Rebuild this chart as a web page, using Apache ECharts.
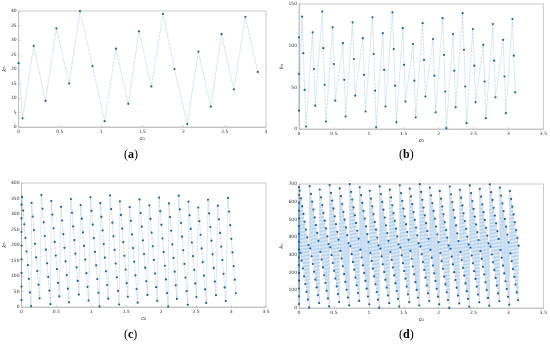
<!DOCTYPE html>
<html><head><meta charset="utf-8">
<script src="https://cdn.jsdelivr.net/npm/echarts@6/dist/echarts.min.js"></script>
<style>html,body{margin:0;padding:0;background:#fff}#c{width:550px;height:346px}</style>
</head><body><div id="c"></div>
<script>
// Panel (a)
const xA=[0,0.048,0.183,0.326,0.458,0.613,0.744,0.895,1.043,1.18,1.33,1.46,1.61,1.75,1.89,2.045,2.18,2.33,2.46,2.61,2.75,2.90];
const yA=[22,3,28,9,34,15,40,21,2,27,8,33,14,39,20,1,26,7,32,13,38,19];
// Panel (b)
const xB=[0,0,0, 0.043,0.062,0.081,0.1, 0.195,0.214,0.233, 0.333,0.348,0.367,0.386, 0.481,0.5,0.519, 0.629,0.648,0.667, 0.767,0.786,0.805, 0.914,0.933,0.952, 1.052,1.071,1.09,1.105, 1.2,1.219,1.238, 1.338,1.357,1.376,1.395, 1.486,1.505,1.524, 1.633,1.652,1.671, 1.771,1.79,1.81, 1.919,1.938,1.957, 2.057,2.076,2.095,2.11, 2.205,2.224,2.243, 2.343,2.362,2.381,2.4, 2.49,2.51,2.529, 2.638,2.657,2.676, 2.776,2.795,2.814, 2.924,2.943,2.962, 3.057,3.076,3.095];
const yB=[110,66,22, 135,91,47,3, 116,72,28, 141,97,53,9, 122,78,34, 103,59,15, 128,84,40, 109,65,21, 134,90,46,2, 115,71,27, 140,96,52,8, 121,77,33, 102,58,14, 127,83,39, 108,64,20, 133,89,45,1, 114,70,26, 139,95,51,7, 120,76,32, 101,57,13, 126,82,38, 107,63,19, 132,88,44];
// Panel (c)
const xC=[0,0,0,0,0,0,0,0,
0.008,0.024,0.041,0.057,0.073,0.09,0.106,0.122,0.138,
0.145,0.161,0.178,0.194,0.21,0.227,0.243,0.259,
0.285,0.301,0.318,0.334,0.35,0.367,0.383,0.399,0.415,
0.426,0.442,0.459,0.475,0.491,0.508,0.524,0.54,
0.566,0.582,0.599,0.615,0.631,0.648,0.664,0.68,
0.707,0.723,0.74,0.756,0.772,0.789,0.805,0.821,
0.847,0.863,0.88,0.896,0.912,0.929,0.945,0.961,
0.987,1.003,1.02,1.036,1.052,1.069,1.085,1.101,1.117,
1.128,1.144,1.161,1.177,1.193,1.21,1.226,1.242,
1.268,1.284,1.301,1.317,1.333,1.35,1.366,1.382,1.398,
1.408,1.424,1.441,1.457,1.473,1.49,1.506,1.522,
1.549,1.565,1.582,1.598,1.614,1.631,1.647,1.663,
1.689,1.705,1.722,1.738,1.754,1.771,1.787,1.803,
1.83,1.846,1.863,1.879,1.895,1.912,1.928,1.944,
1.97,1.986,2.003,2.019,2.035,2.052,2.068,2.084,2.1,
2.11,2.126,2.143,2.159,2.175,2.192,2.208,2.224,
2.25,2.266,2.283,2.299,2.315,2.332,2.348,2.364,2.38,
2.39,2.406,2.423,2.439,2.455,2.472,2.488,2.504,
2.53,2.546,2.563,2.579,2.595,2.612,2.628,2.644,
2.67,2.686,2.703,2.719,2.735,2.752,2.768,2.784,
2.81,2.826,2.843,2.859,2.875,2.892,2.908,2.924,
2.955,2.971,2.988,3.004,3.02,3.037,3.053,3.069];
const yC=[330,286,242,198,154,110,66,22,
355,311,267,223,179,135,91,47,3,
336,292,248,204,160,116,72,28,
361,317,273,229,185,141,97,53,9,
342,298,254,210,166,122,78,34,
323,279,235,191,147,103,59,15,
348,304,260,216,172,128,84,40,
329,285,241,197,153,109,65,21,
354,310,266,222,178,134,90,46,2,
335,291,247,203,159,115,71,27,
360,316,272,228,184,140,96,52,8,
341,297,253,209,165,121,77,33,
322,278,234,190,146,102,58,14,
347,303,259,215,171,127,83,39,
328,284,240,196,152,108,64,20,
353,309,265,221,177,133,89,45,1,
334,290,246,202,158,114,70,26,
359,315,271,227,183,139,95,51,7,
340,296,252,208,164,120,76,32,
321,277,233,189,145,101,57,13,
346,302,258,214,170,126,82,38,
327,283,239,195,151,107,63,19,
352,308,264,220,176,132,88,44];
// Panel (d)
const xD=[0,0,0,0,0,0,0,0,0,0,0,0,0,0,0,0,
0.010,0.019,0.028,0.037,0.046,0.055,0.064,0.073,0.082,0.091,0.100,0.109,0.118,0.127,0.136,0.145,
0.153,0.162,0.171,0.180,0.189,0.198,0.207,0.216,0.225,0.234,0.243,0.252,0.261,0.270,0.279,0.288,
0.297,0.306,0.315,0.324,0.333,0.342,0.351,0.360,0.369,0.378,0.387,0.396,0.405,0.414,0.423,0.432,
0.440,0.449,0.458,0.467,0.476,0.485,0.494,0.503,0.512,0.521,0.530,0.539,0.548,0.557,0.566,0.575,
0.583,0.592,0.601,0.610,0.619,0.628,0.637,0.646,0.655,0.664,0.673,0.682,0.691,0.700,0.709,0.718,
0.727,0.736,0.745,0.754,0.763,0.772,0.781,0.790,0.799,0.808,0.817,0.826,0.835,0.844,0.853,0.862,
0.870,0.879,0.888,0.897,0.906,0.915,0.924,0.933,0.942,0.951,0.960,0.969,0.978,0.987,0.996,1.005,
1.013,1.022,1.031,1.040,1.049,1.058,1.067,1.076,1.085,1.094,1.103,1.112,1.121,1.130,1.139,1.148,
1.156,1.165,1.174,1.183,1.192,1.201,1.210,1.219,1.228,1.237,1.246,1.255,1.264,1.273,1.282,1.291,
1.300,1.309,1.318,1.327,1.336,1.345,1.354,1.363,1.372,1.381,1.390,1.399,1.408,1.417,1.426,1.435,
1.443,1.452,1.461,1.470,1.479,1.488,1.497,1.506,1.515,1.524,1.533,1.542,1.551,1.560,1.569,1.578,
1.586,1.595,1.604,1.613,1.622,1.631,1.640,1.649,1.658,1.667,1.676,1.685,1.694,1.703,1.712,1.721,
1.730,1.739,1.748,1.757,1.766,1.775,1.784,1.793,1.802,1.811,1.820,1.829,1.838,1.847,1.856,1.865,
1.873,1.882,1.891,1.900,1.909,1.918,1.927,1.936,1.945,1.954,1.963,1.972,1.981,1.990,1.999,2.008,
2.016,2.025,2.034,2.043,2.052,2.061,2.070,2.079,2.088,2.097,2.106,2.115,2.124,2.133,2.142,2.151,
2.159,2.168,2.177,2.186,2.195,2.204,2.213,2.222,2.231,2.240,2.249,2.258,2.267,2.276,2.285,2.294,
2.303,2.312,2.321,2.330,2.339,2.348,2.357,2.366,2.375,2.384,2.393,2.402,2.411,2.420,2.429,2.438,
2.446,2.455,2.464,2.473,2.482,2.491,2.500,2.509,2.518,2.527,2.536,2.545,2.554,2.563,2.572,2.581,
2.589,2.598,2.607,2.616,2.625,2.634,2.643,2.652,2.661,2.670,2.679,2.688,2.697,2.706,2.715,2.724,
2.733,2.742,2.751,2.760,2.769,2.778,2.787,2.796,2.805,2.814,2.823,2.832,2.841,2.850,2.859,2.868,
2.876,2.885,2.894,2.903,2.912,2.921,2.930,2.939,2.948,2.957,2.966,2.975,2.984,2.993,3.002,3.011,
3.019,3.028,3.037,3.046,3.055,3.064,3.073,3.082,3.091,3.100,3.109,3.118,3.127,3.136,3.145];
const yD=[682,330,638,286,594,242,550,198,506,154,462,110,418,66,374,22,
663,311,619,267,575,223,531,179,487,135,443,91,399,47,355,3,
688,336,644,292,600,248,556,204,512,160,468,116,424,72,380,28,
669,317,625,273,581,229,537,185,493,141,449,97,405,53,361,9,
694,342,650,298,606,254,562,210,518,166,474,122,430,78,386,34,
675,323,631,279,587,235,543,191,499,147,455,103,411,59,367,15,
700,348,656,304,612,260,568,216,524,172,480,128,436,84,392,40,
681,329,637,285,593,241,549,197,505,153,461,109,417,65,373,21,
662,310,618,266,574,222,530,178,486,134,442,90,398,46,354,2,
687,335,643,291,599,247,555,203,511,159,467,115,423,71,379,27,
668,316,624,272,580,228,536,184,492,140,448,96,404,52,360,8,
693,341,649,297,605,253,561,209,517,165,473,121,429,77,385,33,
674,322,630,278,586,234,542,190,498,146,454,102,410,58,366,14,
699,347,655,303,611,259,567,215,523,171,479,127,435,83,391,39,
680,328,636,284,592,240,548,196,504,152,460,108,416,64,372,20,
661,309,617,265,573,221,529,177,485,133,441,89,397,45,353,1,
686,334,642,290,598,246,554,202,510,158,466,114,422,70,378,26,
667,315,623,271,579,227,535,183,491,139,447,95,403,51,359,7,
692,340,648,296,604,252,560,208,516,164,472,120,428,76,384,32,
673,321,629,277,585,233,541,189,497,145,453,101,409,57,365,13,
698,346,654,302,610,258,566,214,522,170,478,126,434,82,390,38,
679,327,635,283,591,239,547,195,503,151,459,107,415,63,371,19,
660,308,616,264,572,220,528,176,484,132,440,88,396,44,352];

const ticksA=[0,40,5], ticksB=[0,150,50], ticksC=[0,400,50], ticksD=[0,700,100];

function pairs(xs,ys){return xs.map((x,i)=>[x,ys[i]]);}
const grids=[
 {left:14,top:11,width:252,height:116},
 {left:299,top:4,width:245,height:125},
 {left:16,top:183,width:250,height:124},
 {left:299,top:184,width:245,height:124}
];
const xmax=[3,3.5,3.5,3.5];
const yt=[ticksA,ticksB,ticksC,ticksD];
const lab={fontSize:4.5,color:'#333',fontFamily:'DejaVu Sans'};
const xAxis=grids.map((g,i)=>({gridIndex:i,type:'value',min:0,max:xmax[i],interval:0.5,
  axisLine:{show:true,lineStyle:{color:'#bdbdbd',width:0.8}},axisTick:{inside:true,length:2,lineStyle:{color:'#bdbdbd',width:0.6}},
  splitLine:{show:false},axisLabel:Object.assign({margin:2},lab),
  name:'{c|c}{s|0}',nameLocation:'middle',nameGap:8,nameTextStyle:{rich:{c:{fontSize:5.5,fontStyle:'italic',color:'#333'},s:{fontSize:4,color:'#333',verticalAlign:'bottom'}}}}));
const yAxis=grids.map((g,i)=>({gridIndex:i,type:'value',min:yt[i][0],max:yt[i][1],interval:yt[i][2],
  axisLine:{show:true,lineStyle:{color:'#bdbdbd',width:0.8}},axisTick:{inside:true,length:2,lineStyle:{color:'#bdbdbd',width:0.6}},
  splitLine:{show:false},axisLabel:Object.assign({margin:2},lab),
  name:'{c|k}{s|n}',nameLocation:'middle',nameGap:i%2===0?9:11,nameRotate:90,nameTextStyle:{rich:{c:{fontSize:5.5,fontStyle:'italic',color:'#333'},s:{fontSize:4,color:'#333'}}}}));
const datas=[pairs(xA,yA),pairs(xB,yB),pairs(xC,yC),pairs(xD,yD)];
const series=datas.map((d,i)=>({type:'line',xAxisIndex:i,yAxisIndex:i,data:d,animation:false,
  lineStyle:{type:'dotted',width:0.7,color:'rgba(80,150,210,0.6)'},
  symbol:'circle',symbolSize:2.2,itemStyle:{color:'#1f5f9e'},showSymbol:true,clip:true}));
const caps=[['a',133,156],['b',408,156],['c',133,336],['d',408,336]];
const graphic=caps.map(c=>({type:'text',left:c[1]-9,top:c[2]-7,style:{text:'({b|'+c[0]+'})',rich:{b:{fontWeight:'bold',fontSize:12,fontFamily:'Liberation Serif',fill:'#000'}},fontSize:12,fontFamily:'Liberation Serif',fill:'#000'}}));
const chart=echarts.init(document.getElementById('c'));
chart.setOption({animation:false,backgroundColor:'#fff',
 grid:grids.map(g=>Object.assign({show:true,borderColor:'#bdbdbd',borderWidth:0.8,backgroundColor:'#fff'},g)),
 xAxis,yAxis,series,graphic});
</script></body></html>
